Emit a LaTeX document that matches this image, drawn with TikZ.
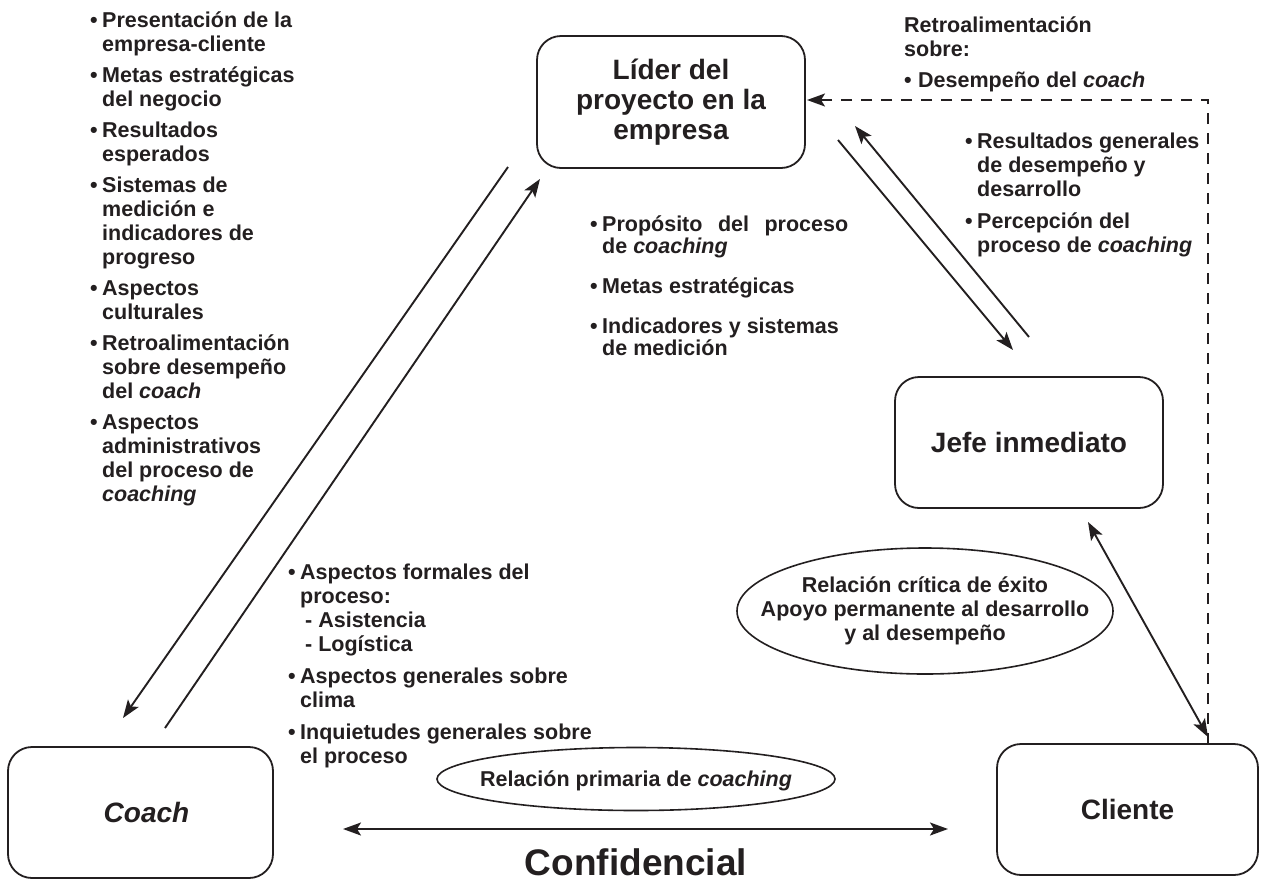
\documentclass[tikz,border=0pt]{standalone}
\usepackage{fontspec}
\setmainfont{Liberation Sans}
\usetikzlibrary{arrows.meta,shapes.geometric}
\definecolor{ink}{RGB}{35,31,32}
\newcommand{\itm}[2]{\hangindent=#1\hangafter=1\noindent\makebox[#1][l]{•}#2\par}
\newcommand{\tblock}[3]{\parbox[t]{#1}{\raggedright\setlength{\parskip}{#2}#3}}
\begin{document}
\begin{tikzpicture}[x=1pt,y=-1pt,
  bigbox/.style={draw=ink, line width=1.8pt, rounded corners=24pt, inner sep=0pt,
     align=center, text=ink, font=\fontsize{28}{30}\selectfont\bfseries},
  oval/.style={draw=ink, ellipse, line width=1.6pt, inner sep=0pt},
  txt/.style={anchor=base west, inner sep=0pt, text=ink, font=\fontsize{21.5}{24}\selectfont\bfseries},
  ctxt/.style={anchor=base, inner sep=0pt, text=ink, font=\fontsize{21.5}{24}\selectfont\bfseries},
  tip/.style={-{Stealth[length=18pt,width=13pt,inset=4pt]}},
  conn/.style={draw=ink, line width=1.9pt, tip},
  dconn/.style={draw=ink, line width=1.9pt, {Stealth[length=18pt,width=13pt,inset=4pt]}-{Stealth[length=18pt,width=13pt,inset=4pt]}}
]
\useasboundingbox (0,0) rectangle (1261,884);
\fill[white] (0,0) rectangle (1261,884);

% boxes
\node[bigbox, minimum width=268pt, minimum height=132pt] (lider) at (671,102) {Líder del\\proyecto en la\\empresa};
\node[bigbox, minimum width=268pt, minimum height=131pt] (jefe) at (1029,442.5) {Jefe inmediato};
\node[bigbox, minimum width=265pt, minimum height=131pt] (coach) at (140.5,812.5) {\itshape\hspace*{12pt}Coach};
\node[bigbox, minimum width=261pt, minimum height=131pt] (cliente) at (1127.5,809.5) {Cliente};

% ellipses
\node[oval, minimum width=376pt, minimum height=126pt] (critica) at (925,611) {};
\node[ctxt] (critT) at (925,592) {\parbox[t]{380pt}{\centering Relación crítica de éxito\\Apoyo permanente al desarrollo\\y al desempeño}};
\node[oval, minimum width=398pt, minimum height=63pt] (primaria) at (636,779) {};
\node[ctxt] (primT) at (636,786) {Relación primaria de \textit{coaching}};

\node[anchor=base, inner sep=0pt, text=ink, font=\fontsize{37}{40}\selectfont\bfseries] (conf) at (636,875) {Confidencial};

% text blocks
\node[txt] (listA) at (90,27) {\tblock{320pt}{7pt}{%
\itm{12pt}{Presentación de la\newline empresa-cliente}
\itm{12pt}{Metas estratégicas\newline del negocio}
\itm{12pt}{Resultados\newline esperados}
\itm{12pt}{Sistemas de\newline medición e\newline indicadores de\newline progreso}
\itm{12pt}{Aspectos\newline culturales}
\itm{12pt}{Retroalimentación\newline sobre desempeño\newline del \textit{coach}}
\itm{12pt}{Aspectos\newline administrativos\newline del proceso de\newline \textit{coaching}}}};

\node[txt] (listB) at (590,231) {\tblock{300pt}{18pt}{\setlength{\baselineskip}{22pt}%
\itm{12pt}{\makebox[246pt][s]{Propósito del proceso}\newline de \textit{coaching}}
\itm{12pt}{Metas estratégicas}
\itm{12pt}{Indicadores y sistemas\newline de medición}}};

\node[txt] (listC) at (904,32) {\tblock{320pt}{7pt}{%
Retroalimentación\newline sobre:\par
\itm{14pt}{Desempeño del \textit{coach}}}};

\node[txt] (listD) at (965,148) {\tblock{300pt}{8pt}{%
\itm{12pt}{Resultados generales\newline de desempeño y\newline desarrollo}
\itm{12pt}{Percepción del\newline proceso de \textit{coaching}}}};

\node[txt] (listE) at (288,579) {\tblock{350pt}{8pt}{%
\itm{12pt}{Aspectos formales del\newline proceso:\newline \hspace*{5pt}- Asistencia\newline \hspace*{5pt}- Logística}
\itm{12pt}{Aspectos generales sobre\newline clima}
\itm{12pt}{Inquietudes generales sobre\newline el proceso}}};

% connector end points
\coordinate (a1s) at (508,167);
\coordinate (a1e) at (123,718);
\coordinate (a2s) at (165,728);
\coordinate (a2e) at (540,179);
\coordinate (b1s) at (838,140);
\coordinate (b1e) at (1013,350);
\coordinate (b2s) at (1029,337);
\coordinate (b2e) at (855,126);
\coordinate (c1) at (1088,522);
\coordinate (c2) at (1208,737);
\coordinate (h1) at (343,829);
\coordinate (h2) at (948,829);
\coordinate (dbot) at (1208,744);
\coordinate (dtop) at (1208,100);
\coordinate (dend) at (807,100);

\draw[conn] (a1s) -- (a1e);
\draw[conn] (a2s) -- (a2e);
\draw[conn] (b1s) -- (b1e);
\draw[conn] (b2s) -- (b2e);
\draw[dconn] (c1) -- (c2);
\draw[dconn] (h1) -- (h2);
\draw[draw=ink, line width=1.8pt, dash pattern=on 11pt off 9pt, tip] (dbot) -- (dtop) -- (dend);
\end{tikzpicture}
\end{document}
